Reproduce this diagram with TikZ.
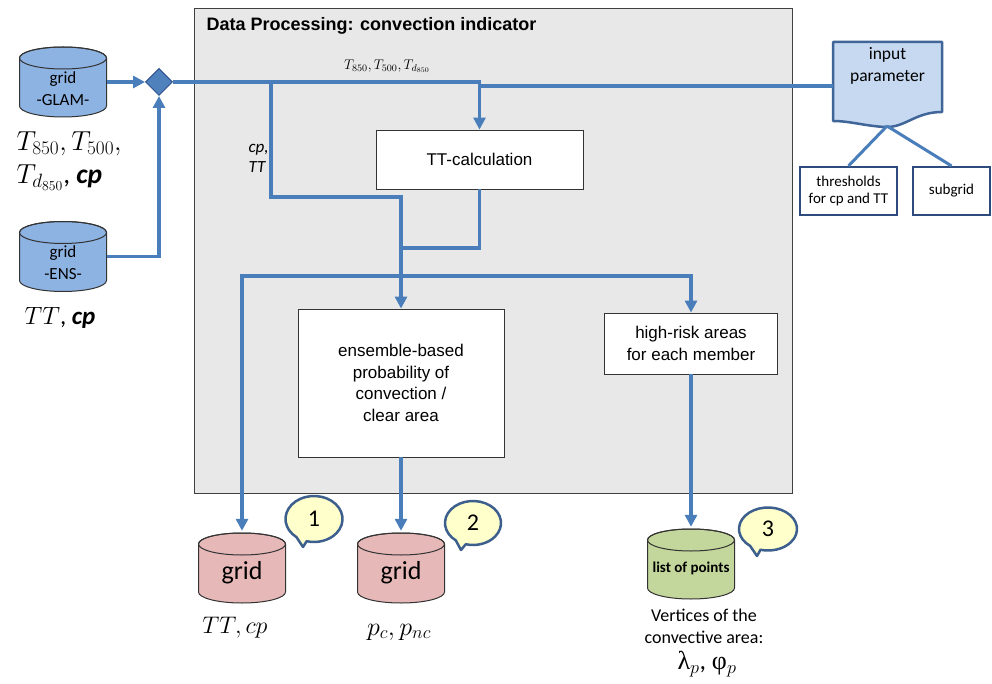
\documentclass[tikz,border=0pt]{standalone}
\usepackage{fix-cm}
\usepackage{fontspec}
\setmainfont{Carlito}
\newfontfamily\arial{Liberation Sans}
\newfontfamily\greek{Liberation Serif}
\usetikzlibrary{arrows.meta,shapes.geometric}
\definecolor{cblue}{HTML}{4A7EBB}
\definecolor{cylblue}{HTML}{8DB3E2}
\definecolor{cylpink}{HTML}{E6B9B8}
\definecolor{cylgreen}{HTML}{C3D69B}
\definecolor{calloutfill}{HTML}{FFFFCC}
\definecolor{calloutdraw}{HTML}{3C5F8E}
\definecolor{docfill}{HTML}{C6D9F1}
\definecolor{docdraw}{HTML}{3F6599}
\definecolor{boxnavy}{HTML}{2E4B7D}
\definecolor{diafill}{HTML}{4F81BD}
\definecolor{diadraw}{HTML}{2F528F}
\definecolor{panelgray}{HTML}{E8E8E8}
\newcommand\drawcyl[4]{% cx, cy, fill, name
  \filldraw[fill=#3, draw=black!80, line width=1] (#1-43.5,#2-24) -- (#1-43.5,#2+24)
    arc[start angle=180,end angle=0,x radius=43.5,y radius=11] -- (#1+43.5,#2-24)
    arc[start angle=0,end angle=-180,x radius=43.5,y radius=11] -- cycle;
  \draw[black!80, line width=1] (#1,#2-24) ellipse[x radius=43.5,y radius=11];
  \node[minimum width=87,minimum height=70,inner sep=0] (#4) at (#1,#2) {};
}
\newcommand\drawcallout[7]{% cx, cy, rx, ry, tipx, tipy, name
  \filldraw[fill=calloutfill, draw=calloutdraw, line width=2.5, line join=round]
    ({#1+#3*cos(105)},{#2+#4*sin(105)}) -- (#5,#6) -- ({#1+#3*cos(128)},{#2+#4*sin(128)})
    arc[start angle=128,end angle=465,x radius=#3,y radius=#4] -- cycle;
}
\begin{document}
\begin{tikzpicture}[x=1pt,y=-1pt,
  conn/.style={draw=cblue, line width=3.5},
  arr/.style={-{Triangle[length=12pt,width=12pt]}},
  procbox/.style={draw=black!80, fill=white, line width=0.9, inner sep=0, align=center,
     font=\arial\fontsize{17}{21.5}\selectfont},
  navybox/.style={draw=boxnavy, fill=white, line width=2.2, inner sep=0, align=center,
     font=\fontsize{15}{17}\selectfont},
  cyltext/.style={align=center, font=\fontsize{17}{22}\selectfont},
  numtext/.style={font=\fontsize{24}{24}\selectfont},
  bigmath/.style={font=\fontsize{27.5}{33}\selectfont, align=left}
]
\useasboundingbox (0,0) rectangle (992,684);

% panel
\node[draw=black!75, fill=panelgray, line width=1.2, minimum width=598, minimum height=485,
      anchor=north west, inner sep=0] (panel) at (194,8) {};
\node[anchor=base west, font=\arial\bfseries\fontsize{18}{20}\selectfont] (title) at (203,31)
  {Data Processing: convection indicator};

% input cylinders
\drawcyl{63}{82}{cylblue}{glam}
\node[cyltext] (glamt) at (63,89) {grid\\-GLAM-};
\drawcyl{63}{256.5}{cylblue}{ensc}
\node[cyltext] (enst) at (63,263) {grid\\-ENS-};

\node[bigmath, anchor=west] (glamlab) at (13,161)
  {$T_{850},T_{500},$\\$T_{d_{850}}$, \textbf{\textit{cp}}};
\node[font=\fontsize{25}{30}\selectfont] (enslab) at (60,318) {$TT$, \textbf{\textit{cp}}};

% diamond
\node[diamond, fill=diafill, draw=diadraw, line width=1, minimum size=27, inner sep=0] (dia) at (159,82) {};

% input parameter document
\filldraw[fill=docfill, draw=docdraw, line width=2.5, line join=round]
  (833,42) -- (942,42) -- (942,112)
  .. controls (915,112) and (905,128) .. (885,127)
  .. controls (865,126) and (850,121) .. (833,121) -- cycle;
\node[inner sep=0, minimum width=109, minimum height=80] (inp) at (887.5,86) {};
\node[cyltext, font=\fontsize{17.5}{22}\selectfont] (inpt) at (887.5,66) {input\\parameter};
\coordinate (inpl) at (833,86);
\coordinate (inpb) at (887,126);
\node[navybox, minimum width=97, minimum height=48] (thr) at (848.5,191) {thresholds\\for cp and TT};
\node[navybox, minimum width=77, minimum height=48] (sub) at (951.5,191) {subgrid};
\draw[cblue, line width=3] (inpb) -- (thr.north);
\draw[cblue, line width=3] (inpb) -- (sub.north);

% process boxes
\node[procbox, minimum width=207, minimum height=59] (tt) at (479.5,159.5) {TT-calculation};
\node[procbox, minimum width=206, minimum height=148] (prob) at (401,383)
  {ensemble-based\\probability of\\convection /\\clear area};
\node[procbox, minimum width=173, minimum height=61] (hr) at (691,343.5)
  {high-risk areas\\for each member};

% junctions
\coordinate (j1) at (271,82);
\coordinate (j2) at (401,197);
\coordinate (j4) at (401,248);
\coordinate (j3) at (401,276);
\coordinate (j0) at (479.5,86);

% output cylinders
\drawcyl{242}{568}{cylpink}{g1}
\node[font=\fontsize{26}{26}\selectfont] (g1t) at (242,573) {grid};
\drawcyl{401}{568}{cylpink}{g2}
\node[font=\fontsize{26}{26}\selectfont] (g2t) at (401,573) {grid};
\drawcyl{691}{564}{cylgreen}{lp}
\node[font=\bfseries\fontsize{15}{15}\selectfont] (lpt) at (691,568) {list of points};

\node[font=\fontsize{24}{28}\selectfont] (g1lab) at (235,628) {$TT, cp$};
\node[font=\fontsize{26}{30}\selectfont] (g2lab) at (399,632) {$p_c, p_{nc}$};
\node[cyltext, font=\fontsize{18}{22}\selectfont] (vtx) at (704,626) {Vertices of the\\convective area:};
\node[font=\fontsize{26}{30}\selectfont] (lam) at (707,664) {{\greek λ}$_p$, {\greek φ}$_p$};

% connectors
\draw[conn, arr] (glam.east) -- (dia.west);
\draw[conn, arr] (ensc.east) -| (dia.south);
\draw[conn, arr] (dia.east) -| (tt.north);
\draw[conn] (inpl) -- (j0);
\draw[conn, arr] (j1) |- (j2) -- (prob.north);
\draw[conn] (tt.south) |- (j4);
\draw[conn, arr, shorten >=2pt] (j3) -| (g1.north);
\draw[conn, arr] (j3) -| (hr.north);
\draw[conn, arr, shorten >=2pt] (prob.south) -- (g2.north);
\draw[conn, arr, shorten >=2pt] (hr.south) -- (lp.north);

% labels on connectors
\node[font=\itshape\fontsize{17}{20}\selectfont, align=left, anchor=west] (cptt) at (245,158) {cp,\\TT};
\node[font=\fontsize{14}{16}\selectfont] (tlab) at (387,66) {$T_{850},T_{500},T_{d_{850}}$};

% callouts
\drawcallout{314}{519}{28.5}{23}{303}{547}{c1}
\node[numtext] (c1) at (314,519) {1};
\drawcallout{473}{523}{28}{22}{461}{550}{c2}
\node[numtext] (c2) at (473,523) {2};
\drawcallout{768}{529}{29}{21.5}{757}{556}{c3}
\node[numtext] (c3) at (768,529) {3};
\end{tikzpicture}
\end{document}
